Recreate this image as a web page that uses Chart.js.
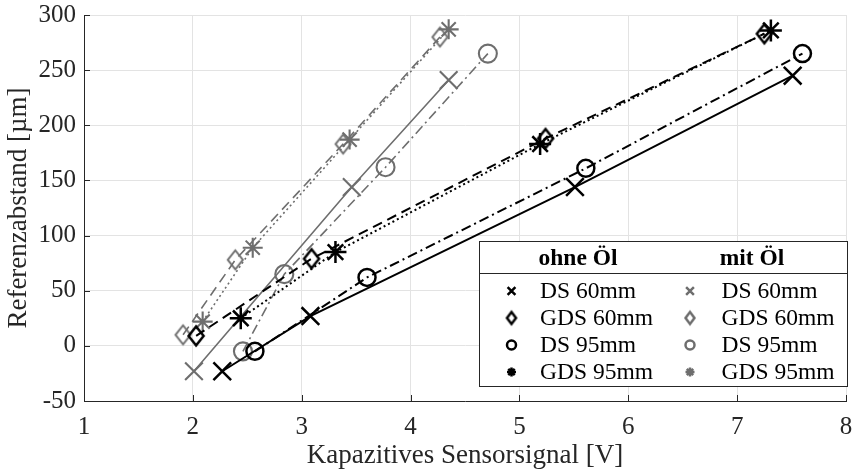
<!DOCTYPE html>
<html>
<head>
<meta charset="utf-8">
<script src="https://cdn.jsdelivr.net/npm/chart.js@4"></script>
<style>
  html, body { margin: 0; padding: 0; background: #fff; }
  #wrap { width: 861px; height: 472px; }
</style>
</head>
<body>
<div id="wrap"><canvas id="chart" width="861" height="472"></canvas></div>
<script>
// ohne Öl
const ds60OhneX = [2.27, 3.08, 5.51, 7.51];
const ds60OhneY = [-23, 27, 144, 245];
const gds60OhneX = [2.03, 3.09, 5.24, 7.25];
const gds60OhneY = [9, 79, 188, 283];
const ds95OhneX = [2.57, 3.60, 5.61, 7.60];
const ds95OhneY = [-5, 62, 161, 265];
const gds95OhneX = [2.44, 3.31, 5.19, 7.31];
const gds95OhneY = [25, 85, 183, 286];
// mit Öl
const ds60MitX = [2.01, 3.46, 4.35];
const ds60MitY = [-23, 144, 241];
const gds60MitX = [1.91, 2.39, 3.38, 4.27];
const gds60MitY = [10, 78, 183, 280];
const ds95MitX = [2.46, 2.84, 3.77, 4.71];
const ds95MitY = [-5, 65, 162, 265];
const gds95MitX = [2.09, 2.55, 3.44, 4.35];
const gds95MitY = [22, 89, 187, 287];

const legendLabels = ['DS 60mm', 'GDS 60mm', 'DS 95mm', 'GDS 95mm'];
const groupTitles = ['ohne Öl', 'mit Öl'];

const BLACK = '#000000';
const GRAY = '#6e6e6e';
const FONT = '"Liberation Serif", "Times New Roman", serif';

// MATLAB-like diamond (taller than wide) as a small canvas image
function diamond(color, hw, hh, lw) {
  const c = document.createElement('canvas');
  c.width = Math.ceil(2 * hw + lw + 4);
  c.height = Math.ceil(2 * hh + lw + 4);
  const g = c.getContext('2d');
  const cx = c.width / 2, cy = c.height / 2;
  g.strokeStyle = color;
  g.lineWidth = lw;
  g.lineJoin = 'miter';
  g.beginPath();
  g.moveTo(cx, cy - hh);
  g.lineTo(cx + hw, cy);
  g.lineTo(cx, cy + hh);
  g.lineTo(cx - hw, cy);
  g.closePath();
  g.stroke();
  return c;
}

function pts(xs, ys) {
  return xs.map((x, i) => ({ x: x, y: ys[i] }));
}

function series(label, xs, ys, color, style, radius, dash, width) {
  return {
    label: label,
    data: pts(xs, ys),
    borderColor: color,
    backgroundColor: 'rgba(0,0,0,0)',
    pointBorderColor: color,
    pointBackgroundColor: 'rgba(0,0,0,0)',
    pointStyle: style,
    pointRadius: radius,
    pointBorderWidth: width + 0.5,
    borderWidth: width,
    borderDash: dash,
    showLine: true,
    tension: 0
  };
}

const SOLID = [];
const DASHED = [10, 6];
const DASHDOT = [10, 4, 2, 4];
const DOTTED = [2, 3];

const datasets = [
  series('DS 60mm ohne', ds60OhneX, ds60OhneY, BLACK, 'crossRot', 12.5, SOLID, 2),
  series('GDS 60mm ohne', gds60OhneX, gds60OhneY, BLACK, diamond(BLACK, 7.5, 9.5, 2.5), 10, DASHED, 2),
  series('DS 95mm ohne', ds95OhneX, ds95OhneY, BLACK, 'circle', 8.5, DASHDOT, 2),
  series('GDS 95mm ohne', gds95OhneX, gds95OhneY, BLACK, 'star', 11, DOTTED, 2),
  series('DS 60mm mit', ds60MitX, ds60MitY, GRAY, 'crossRot', 12.5, SOLID, 1.6),
  series('GDS 60mm mit', gds60MitX, gds60MitY, GRAY, diamond(GRAY, 7.5, 9.5, 2), 10, DASHED, 1.6),
  series('DS 95mm mit', ds95MitX, ds95MitY, GRAY, 'circle', 9, DASHDOT, 1.6),
  series('GDS 95mm mit', gds95MitX, gds95MitY, GRAY, 'star', 10, DOTTED, 1.6)
];

// small legend markers
const legendMarks = [
  ['crossRot', 5.5], [null, 0], ['circle', 4.5], ['star', 4.5]
];

// inward tick marks like the original
const inwardTicks = {
  id: 'inwardTicks',
  afterDatasetsDraw(chart) {
    const ctx = chart.ctx;
    const xs = chart.scales.x, ys = chart.scales.y;
    const a = chart.chartArea;
    ctx.save();
    ctx.strokeStyle = '#262626';
    ctx.lineWidth = 1;
    ctx.beginPath();
    xs.ticks.forEach(t => {
      const px = Math.round(xs.getPixelForValue(t.value)) + 0.5;
      ctx.moveTo(px, a.bottom);
      ctx.lineTo(px, a.bottom - 6);
    });
    ys.ticks.forEach(t => {
      const py = Math.round(ys.getPixelForValue(t.value)) + 0.5;
      ctx.moveTo(a.left, py);
      ctx.lineTo(a.left + 6, py);
    });
    ctx.stroke();
    ctx.restore();
  }
};

// two-column legend with group headers
const groupLegend = {
  id: 'groupLegend',
  afterDraw(chart) {
    const ctx = chart.ctx;
    const box = { l: 479.5, t: 241.5, r: 847.5, b: 386.5 };
    ctx.save();
    ctx.fillStyle = '#fff';
    ctx.fillRect(box.l, box.t, box.r - box.l, box.b - box.t);
    ctx.strokeStyle = '#262626';
    ctx.lineWidth = 1;
    ctx.strokeRect(box.l, box.t, box.r - box.l, box.b - box.t);
    ctx.beginPath();
    ctx.moveTo(box.l, 273.5);
    ctx.lineTo(box.r, 273.5);
    ctx.stroke();

    ctx.fillStyle = '#000';
    ctx.textBaseline = 'middle';
    ctx.textAlign = 'center';
    ctx.font = 'bold 23.5px ' + FONT;
    ctx.fillText(groupTitles[0], 578, 259);
    ctx.fillText(groupTitles[1], 752, 259);

    const markX = [511.5, 690];
    const textX = [540, 721.5];
    const rowY = [291, 318, 345, 372];
    ctx.font = '23.5px ' + FONT;
    ctx.textAlign = 'left';
    for (let g = 0; g < 2; g++) {
      const color = g === 0 ? BLACK : GRAY;
      for (let r = 0; r < 4; r++) {
        const lw = 2.5;
        if (r === 1) {
          const img = diamond(color, 4.5, 6, lw);
          ctx.drawImage(img, markX[g] - img.width / 2, rowY[r] - img.height / 2);
        } else {
          ctx.save();
          ctx.strokeStyle = color;
          ctx.fillStyle = 'rgba(0,0,0,0)';
          ctx.lineWidth = lw;
          ctx.setLineDash([]);
          Chart.helpers.drawPoint(ctx, {
            pointStyle: legendMarks[r][0],
            radius: legendMarks[r][1],
            rotation: 0,
            borderWidth: lw
          }, markX[g], rowY[r]);
          ctx.restore();
        }
        ctx.fillStyle = '#000';
        ctx.fillText(legendLabels[r], textX[g], rowY[r] + 1);
      }
    }
    ctx.restore();
  }
};

new Chart(document.getElementById('chart').getContext('2d'), {
  type: 'scatter',
  data: { datasets: datasets },
  options: {
    responsive: false,
    animation: false,
    layout: { padding: { top: 15, right: 11, left: 0, bottom: 0 } },
    plugins: { legend: { display: false }, tooltip: { enabled: false } },
    elements: { point: { hoverRadius: 0 } },
    clip: false,
    scales: {
      x: {
        type: 'linear',
        min: 1, max: 8,
        ticks: { stepSize: 1, color: '#262626', font: { family: FONT, size: 25 }, padding: 11 },
        grid: { color: '#e3e3e3', drawTicks: false, tickLength: 0 },
        border: { color: '#262626', width: 1 },
        title: { display: true, text: 'Kapazitives Sensorsignal [V]', color: '#262626', font: { family: FONT, size: 27 }, padding: { top: 0, bottom: 0 } },
        afterFit(scale) {
          scale.height = 71;
          scale.paddingLeft = 0;
          scale.paddingRight = 0;
        }
      },
      y: {
        type: 'linear',
        min: -50, max: 300,
        ticks: { stepSize: 50, color: '#262626', font: { family: FONT, size: 25 }, padding: 8 },
        grid: { color: '#e3e3e3', drawTicks: false, tickLength: 0 },
        border: { color: '#262626', width: 1 },
        title: { display: true, text: 'Referenzabstand [µm]', color: '#262626', font: { family: FONT, size: 27 }, padding: { top: 3, bottom: 0 } },
        afterFit(scale) {
          scale.width = 84;
          scale.paddingTop = 0;
          scale.paddingBottom = 0;
        }
      }
    }
  },
  plugins: [inwardTicks, groupLegend]
});
</script>
</body>
</html>
